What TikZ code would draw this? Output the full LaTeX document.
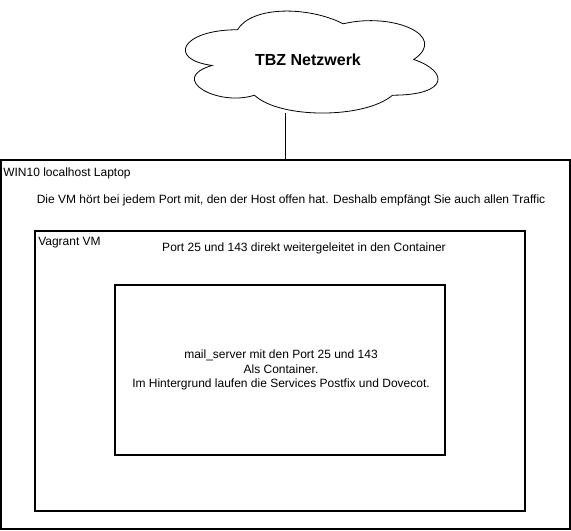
\documentclass[tikz,border=0pt]{standalone}
\usepackage{fontspec}
\setmainfont{Liberation Sans}
\tikzset{
    box/.style={draw, line width=0.8pt, inner sep=0pt},
    lbl/.style={inner sep=0pt, font=\fontsize{9pt}{11pt}\selectfont},
}
\begin{document}
\begin{tikzpicture}[x=0.75pt,y=-0.75pt]
    \useasboundingbox (0,0) rectangle (571,531);

    % cloud
    \begin{scope}[shift={(167,0)}, x=211.5pt, y=-89.25pt]
        \draw[line width=0.6pt] (0.25,0.25) .. controls (0.05,0.25) and (0,0.5) .. (0.16,0.55)
            .. controls (0,0.66) and (0.18,0.9) .. (0.31,0.8)
            .. controls (0.4,1) and (0.7,1) .. (0.8,0.8)
            .. controls (1,0.8) and (1,0.6) .. (0.875,0.5)
            .. controls (1,0.3) and (0.8,0.1) .. (0.625,0.2)
            .. controls (0.5,0.05) and (0.3,0.05) .. (0.25,0.25) -- cycle;
    \end{scope}
    \node[inner sep=0pt, font=\fontsize{12pt}{14pt}\selectfont\bfseries] (tbz) at (308,60) {TBZ Netzwerk};
    \coordinate (cloudbot) at (285,113);

    % boxes
    \node[box, minimum width=426.75pt, minimum height=276.75pt] (laptop) at (285.5,344.5) {};
    \node[box, minimum width=367.5pt, minimum height=210pt] (vm) at (280,371) {};
    \node[box, minimum width=247.5pt, minimum height=127.5pt] (container) at (280,370) {};

    \draw[line width=0.6pt] (cloudbot) -- (cloudbot |- laptop.north);

    % texts
    \node[lbl, anchor=west] (laptoptitle) at (3,173) {WIN10 localhost Laptop};
    \node[lbl] (laptopnote) at (291,200) {Die VM hört bei jedem Port mit, den der Host offen hat. Deshalb empfängt Sie auch allen Traffic};
    \node[lbl, anchor=west] (vmtitle) at (38,243) {Vagrant VM};
    \node[lbl] (vmnote) at (304,248) {Port 25 und 143 direkt weitergeleitet in den Container};
    \node[lbl, align=center] (containernote) at (281,370) {mail\_server mit den Port 25 und 143\\Als Container.\\Im Hintergrund laufen die Services Postfix und Dovecot.};
\end{tikzpicture}
\end{document}
